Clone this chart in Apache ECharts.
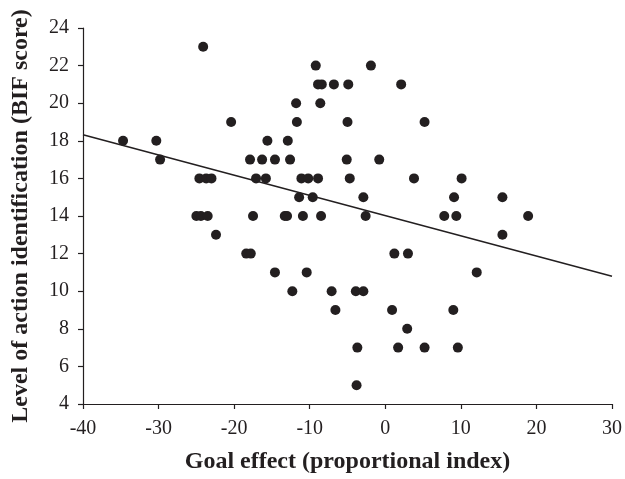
<!DOCTYPE html>
<html>
<head>
<meta charset="utf-8">
<script src="https://cdn.jsdelivr.net/npm/echarts@6/dist/echarts.min.js"></script>
<style>html,body{margin:0;padding:0;background:#fff}#c{width:625px;height:479px}</style>
</head>
<body>
<div id="c"></div>
<script>
// Scatter data: goal effect (x) and BIF score (y)
const goalEffect = [
  -24.1,
  -9.2, -1.9,
  -8.9, -8.4, -6.8, -4.9, 2.1,
  -11.8, -8.6,
  -20.4, -11.7, -5.0, 5.2,
  -34.7, -30.3, -15.6, -12.9,
  -29.8, -17.9, -16.3, -14.6, -12.6, -5.1, -0.8,
  -24.6, -23.7, -23.0, -17.1, -15.8, -11.1, -10.2, -8.9, -4.7, 3.8, 10.1,
  -11.4, -9.6, -2.9, 9.1, 15.5,
  -25.0, -24.4, -23.5, -17.5, -13.3, -13.0, -10.9, -8.5, -2.6, 7.8, 9.4, 18.9,
  -22.4, 15.5,
  -18.4, -17.8, 1.2, 3.0,
  -14.6, -10.4, 12.1,
  -12.3, -7.1, -3.9, -2.9,
  -6.6, 0.9, 9.0,
  2.9,
  -3.7, 1.7, 5.2, 9.6,
  -3.8
];
const bifScore = [
  23,
  22, 22,
  21, 21, 21, 21, 21,
  20, 20,
  19, 19, 19, 19,
  18, 18, 18, 18,
  17, 17, 17, 17, 17, 17, 17,
  16, 16, 16, 16, 16, 16, 16, 16, 16, 16, 16,
  15, 15, 15, 15, 15,
  14, 14, 14, 14, 14, 14, 14, 14, 14, 14, 14, 14,
  13, 13,
  12, 12, 12, 12,
  11, 11, 11,
  10, 10, 10, 10,
  9, 9, 9,
  8,
  7, 7, 7, 7,
  5
];
// Regression line endpoints
const trendX = [-40, 30];
const trendY = [18.32, 10.8];

const xTicks = { min: -40, max: 30, interval: 10 };
const yTicks = { min: 4, max: 24, interval: 2 };

const ink = '#231f20';
const serif = '"Liberation Serif", "Times New Roman", serif';

const chart = echarts.init(document.getElementById('c'), null, { renderer: 'canvas' });
chart.setOption({
  animation: false,
  backgroundColor: '#ffffff',
  grid: { left: 83, right: 11, top: 28, bottom: 69, containLabel: false },
  xAxis: {
    type: 'value',
    min: xTicks.min, max: xTicks.max, interval: xTicks.interval,
    name: 'Goal effect (proportional index)',
    nameLocation: 'middle',
    nameGap: 46,
    nameTextStyle: { fontFamily: serif, fontWeight: 'bold', fontSize: 24, color: ink },
    axisLine: { show: true, onZero: false, lineStyle: { color: ink, width: 1.2 } },
    axisTick: { show: true, inside: false, length: 5, lineStyle: { color: ink, width: 1.2 } },
    axisLabel: { fontFamily: serif, fontSize: 20, color: ink, margin: 15 },
    splitLine: { show: false }
  },
  yAxis: {
    type: 'value',
    min: yTicks.min, max: yTicks.max, interval: yTicks.interval,
    name: 'Level of action identification (BIF score)',
    nameLocation: 'middle',
    nameGap: 50,
    nameTextStyle: { fontFamily: serif, fontWeight: 'bold', fontSize: 24, color: ink },
    axisLine: { show: true, onZero: false, lineStyle: { color: ink, width: 1.2 } },
    axisTick: { show: true, inside: false, length: 5, lineStyle: { color: ink, width: 1.2 } },
    axisLabel: { fontFamily: serif, fontSize: 20, color: ink, margin: 14 },
    splitLine: { show: false }
  },
  series: [
    {
      type: 'scatter',
      symbol: 'circle',
      symbolSize: 10,
      itemStyle: { color: ink, opacity: 1 },
      data: goalEffect.map((x, i) => [x, bifScore[i]]),
      z: 3
    },
    {
      type: 'line',
      data: trendX.map((x, i) => [x, trendY[i]]),
      symbol: 'none',
      lineStyle: { color: ink, width: 1.5 },
      z: 2
    }
  ]
});
</script>
</body>
</html>
